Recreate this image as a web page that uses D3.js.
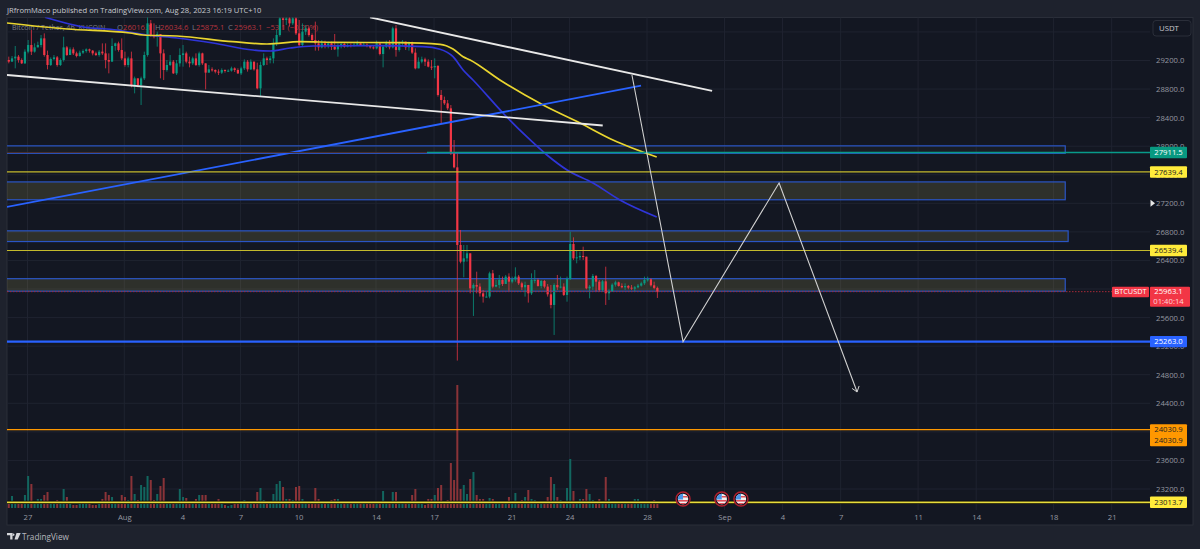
<!DOCTYPE html>
<html>
<head>
<meta charset="utf-8">
<script src="https://cdn.jsdelivr.net/npm/d3@7"></script>
<style>
html,body{margin:0;padding:0;background:#1e222d;}
svg{display:block;}
text{font-family:"Open Sans","Roboto",sans-serif;}
</style>
</head>
<body>
<svg id="chart" width="1200" height="549"></svg>
<script>
// BTC/USDT 4h candles, starting 26 Jul 2023; time is measured in days after 27 Jul.
const firstCandleDay = -1.133;
const candleStep = 1 / 6;
const firstOpen = 29180;
const closes = [29207,29184,29230,29254,29207,29160,29324,29417,29324,29384,29417,29510,29277,29137,29221,29244,29137,29207,29384,29277,29356,29300,29263,29310,29333,29356,29338,29300,29277,29324,29300,29207,29184,29403,29440,29347,29230,29137,29230,28857,28950,28857,28950,29277,29720,29557,29534,29571,29300,29067,29137,29184,29020,29160,29277,29300,29184,29160,29230,29137,29300,29160,29030,29076,29067,29044,29030,29067,29053,29058,29090,29067,29020,29090,29184,29076,29184,29076,28810,29137,29230,29207,29230,29440,29557,29790,29767,29790,29720,29790,29580,29417,29604,29650,29557,29487,29440,29384,29440,29417,29440,29394,29356,29417,29431,29394,29417,29403,29422,29440,29412,29422,29403,29384,29370,29440,29291,29394,29440,29384,29650,29347,29440,29464,29384,29440,29310,29090,29184,29216,29184,29114,29104,29123,28717,28647,28600,28530,27900,27704,26617,26383,26430,26500,26010,26057,26034,25940,25894,25894,26220,26034,26057,26127,26071,26174,26103,26136,26174,26080,26024,26057,25940,26127,26127,26043,26113,26034,25926,25777,26057,26024,26034,25917,26141,26631,26430,26444,26463,26453,26010,26034,26183,26103,25987,26108,25940,25968,26061,26094,26043,26024,26043,26019,26005,26024,26048,26080,26127,26136,26052,26016,25963.1];
const highs = [29230,29254,29263,29403,29277,29230,29356,29487,29627,29440,29464,29557,29580,29338,29244,29277,29263,29230,29534,29403,29384,29384,29324,29338,29356,29370,29366,29347,29324,29347,29440,29440,29300,29510,29450,29464,29510,29324,29254,29324,28974,28950,28974,29324,29814,29767,29720,29604,29557,29356,29207,29277,29207,29207,29370,29417,29324,29254,29254,29300,29324,29310,29137,29137,29104,29076,29076,29090,29076,29076,29114,29104,29090,29114,29216,29207,29216,29184,29170,29184,29300,29254,29263,29510,29627,29837,29837,29837,29814,29837,29837,29767,29720,29697,29674,29580,29744,29487,29487,29478,29464,29464,29571,29440,29450,29450,29440,29440,29450,29478,29450,29450,29440,29417,29403,29478,29450,29417,29478,29487,29674,29697,29464,29487,29464,29464,29464,29370,29244,29254,29240,29216,29207,29230,29137,28787,28694,28647,28577,28087,27900,26827,26617,26617,26500,26080,26243,26080,25987,25964,26243,26267,26127,26197,26174,26197,26220,26174,26304,26197,26103,26103,26057,26220,26267,26150,26127,26127,26071,26057,26080,26197,26174,26080,26174,26803,26724,26547,26524,26593,26444,26057,26211,26197,26127,26127,26313,25996,26080,26117,26103,26080,26080,26057,26057,26043,26071,26103,26174,26174,26150,26103,26034.6];
const lows = [29160,29160,29184,29090,29170,29151,29151,29300,29277,29310,29384,29384,29254,29076,29123,29207,29114,29123,29184,29263,29277,29277,29244,29254,29291,29310,29310,29272,29263,29254,29277,29090,29020,29254,29338,29324,29207,29114,29104,28824,28740,28824,28577,28927,29254,29534,29510,29394,28950,28927,29044,29123,29011,28997,29114,29114,29160,29104,29137,29123,29114,29137,28796,29058,29044,29020,28997,29011,29030,29039,29044,29039,29011,28997,29067,29044,29067,29058,28796,28703,29123,29137,29160,29160,29403,29534,29627,29697,29674,29697,29557,29394,29394,29557,29534,29464,29338,29338,29370,29370,29370,29347,29347,29254,29370,29380,29384,29384,29394,29412,29403,29403,29384,29366,29356,29356,29272,29104,29375,29356,29370,29254,29324,29403,29347,29338,29291,29076,29137,29160,29123,29104,29067,28950,28694,28320,28577,28507,27877,27690,24998,26360,26164,26383,25940,25623,25940,25894,25810,25884,25870,26010,26024,26010,26043,26080,25977,26080,26103,26057,25987,25894,25810,25917,26080,26034,26010,26010,25894,25730,25357,25987,26010,25903,25823,26127,26407,26360,26407,26407,25996,25870,25987,25964,25964,25964,25777,25847,25964,26034,26034,26010,25987,25996,25987,25964,26010,26034,26057,26103,26034,25996,25875.1];
const volumes = [9,7,12,6,5,5,13,32,24,5,9,9,13,16,5,6,8,4,19,11,5,3,3,4,6,5,4,3,3,6,9,16,13,11,5,5,13,11,8,32,14,8,23,21,32,28,8,14,22,30,6,6,6,6,19,11,10,6,6,9,13,13,13,4,4,5,9,4,3,2,3,4,4,4,8,6,4,5,16,20,8,5,4,14,24,27,21,9,9,8,21,22,9,5,5,6,20,9,5,5,7,8,9,9,4,4,4,4,4,4,4,4,4,4,4,6,6,17,5,5,16,16,6,5,5,4,13,19,4,4,3,9,9,13,20,23,5,8,45,28,123,19,23,14,29,36,13,9,9,5,10,9,6,5,4,4,11,4,15,5,8,11,18,9,8,5,4,5,11,31,24,11,8,7,20,49,17,6,9,9,19,14,8,6,9,7,31,9,6,6,5,5,4,4,4,9,9,6,6,5,5,8,4];

// Moving averages as day / price pairs.
const blueMaDays = [0.90,2.87,4.62,6.17,7.72,9.58,11.65,12.53,13.56,14.75,18.05,20.43,21.31,21.98,22.5,23.01,24.56,25.8,26.83,27.87,29.21,30.6,32.5];
const blueMaPrices = [29805,29669,29627,29557,29515,29445,29347,29333,29375,29403,29407,29393,29357,29253,29067,28927,28465,28129,27877,27667,27485,27247,27009];
const yellowMaDays = [-1.06,2.04,5.29,5.97,7.72,10.61,12.37,14.07,15.78,19.24,21.31,21.98,22.5,22.86,24.4,26.63,28.54,30.24,32.5];
const yellowMaPrices = [29725,29641,29585,29557,29543,29463,29431,29463,29455,29449,29427,29361,29253,29207,28927,28577,28325,28087,27849];

// Hand-drawn trend lines: [day, price, day, price].
const lowerChannel = [-1.06,28997,29.71,28290];
const upperChannel = [17.69,29805,35.36,28773];
const blueTrend = [-1.06,27149,31.69,28847];
const projectionDays = [31.22,33.86,38.82,42.85];
const projectionPrices = [28997,25263,27485,24559];

// Supply and demand zones: [end day, top price, bottom price, fill opacity].
const zones = [[53.6,28005,27900,0.03],[53.6,27500,27250,0.13],[53.75,26815,26665,0.13],[53.6,26145,25970,0.13]];

// Horizontal levels with their axis tags.
const tealLevel = 27911.5, yellowLevelA = 27639.4, yellowLevelB = 26539.4;
const blueLevel = 25263.0, orangeLevel = 24030.9, bottomLevel = 23013.7, lastPrice = 25963.1;

const priceTicks = [29200,28800,28400,28000,27600,27200,26800,26400,26000,25600,25200,24800,24400,24000,23600,23200];
const gridPrices = [29600].concat(priceTicks);
const timeTicks = [0,5,8,11,14,18,21,25,28,32,36,39,42,46,49,53,56];
const timeLabels = ["27","Aug","4","7","10","14","17","21","24","28","Sep","4","7","11","14","18","21"];
const eventDays = [33.86,35.86,36.85];

const x = d3.scaleLinear().domain([0,56]).range([27.5,1111.7]);
const y = d3.scaleLinear().domain([29200,23200]).range([60.5,489]);
const volY = d3.scaleLinear().domain([0,123]).range([508,385]);
const paneL = 7, paneR = 1193, paneT = 17.5, paneB = 525, plotR = 1150;
const labelSize = 7.7;

const svg = d3.select("#chart");
svg.append("rect").attr("width",1200).attr("height",549).attr("fill","#1e222d");
svg.append("rect").attr("x",paneL).attr("y",paneT).attr("width",paneR-paneL).attr("height",paneB-paneT)
  .attr("fill","#131722").attr("stroke","#2a2e39");
const defs = svg.append("defs");
defs.append("clipPath").attr("id","pane").append("rect")
  .attr("x",paneL).attr("y",paneT).attr("width",plotR-paneL).attr("height",paneB-paneT);

const plot = svg.append("g").attr("clip-path","url(#pane)");

// Grid
plot.selectAll("line.h").data(gridPrices).join("line").attr("class","h")
  .attr("x1",paneL).attr("x2",plotR).attr("y1",d=>y(d)).attr("y2",d=>y(d))
  .attr("stroke","#1f2330");
plot.selectAll("line.v").data(timeTicks).join("line").attr("class","v")
  .attr("x1",d=>x(d)).attr("x2",d=>x(d)).attr("y1",paneT).attr("y2",paneB-15)
  .attr("stroke","#1f2330");

// Assemble candles from the price arrays
const candles = closes.map((c,i)=>{
  const o = i===0 ? firstOpen : closes[i-1];
  return {t:firstCandleDay+i*candleStep,o,c,h:Math.max(highs[i],o,c),l:Math.min(lows[i],o,c),v:volumes[i],up:c>=o};
});
const UP="#089981", DOWN="#f23645";

// Volume histogram
plot.selectAll("rect.vol").data(candles).join("rect").attr("class","vol")
  .attr("x",d=>x(d.t)-1).attr("width",2)
  .attr("y",d=>volY(d.v)).attr("height",d=>volY(0)-volY(d.v))
  .attr("fill",d=>d.up?"#12665f":"#8a3338");

// Legend sits beneath the candles
const legend = svg.append("g").attr("font-size",labelSize);
legend.append("text").attr("x",12).attr("y",30).attr("fill","#787b86").attr("font-size",7.1).text("Bitcoin / Tether, 4h, KUCOIN");
[["O",117,"26016.1",123],["H",155,"26034.6",160],["L",192,"25875.1",196],["C",228,"25963.1",234]].forEach(a=>{
  legend.append("text").attr("x",a[1]).attr("y",30).attr("fill","#787b86").text(a[0]);
  legend.append("text").attr("x",a[3]).attr("y",30).attr("fill","#b5343f").text(a[2]);
});
legend.append("text").attr("x",266).attr("y",30).attr("fill","#b5343f").text("−53.1 (−0.20%)");

// Zones
const zoneG = svg.append("g").attr("clip-path","url(#pane)");
zoneG.selectAll("rect").data(zones).join("rect")
  .attr("x",paneL-2).attr("width",d=>x(d[0])-paneL+2)
  .attr("y",d=>y(d[1])).attr("height",d=>y(d[2])-y(d[1]))
  .attr("fill","#e8dc70").attr("fill-opacity",d=>d[3])
  .attr("stroke","#2a55c4").attr("stroke-width",1.2);

// Candles
const candleG = svg.append("g").attr("clip-path","url(#pane)");
candleG.selectAll("line").data(candles).join("line")
  .attr("x1",d=>x(d.t)).attr("x2",d=>x(d.t)).attr("y1",d=>y(d.h)).attr("y2",d=>y(d.l))
  .attr("stroke",d=>d.up?UP:DOWN).attr("stroke-opacity",0.75);
candleG.selectAll("rect").data(candles).join("rect")
  .attr("x",d=>x(d.t)-1.1).attr("width",2.2)
  .attr("y",d=>y(Math.max(d.o,d.c))).attr("height",d=>Math.max(1,y(Math.min(d.o,d.c))-y(Math.max(d.o,d.c))))
  .attr("fill",d=>d.up?UP:DOWN);

// Overlay lines
const over = svg.append("g").attr("clip-path","url(#pane)").attr("fill","none");
const maLine = d3.line().x(d=>x(d[0])).y(d=>y(d[1])).curve(d3.curveMonotoneX);
over.append("path").attr("d",maLine(d3.zip(blueMaDays,blueMaPrices))).attr("stroke","#2f35d8").attr("stroke-width",1.7);
over.append("path").attr("d",maLine(d3.zip(yellowMaDays,yellowMaPrices))).attr("stroke","#e9d52f").attr("stroke-width",1.7);

const seg = (s,color,w)=>over.append("line")
  .attr("x1",x(s[0])).attr("y1",y(s[1])).attr("x2",x(s[2])).attr("y2",y(s[3]))
  .attr("stroke",color).attr("stroke-width",w);
seg(blueTrend,"#2962ff",1.8);
seg(lowerChannel,"#e8e8e8",1.8);
seg(upperChannel,"#e8e8e8",1.8);

const level = (p,x0,color,w,extra)=>{
  const l = over.append("line").attr("x1",x0).attr("x2",plotR).attr("y1",y(p)).attr("y2",y(p))
    .attr("stroke",color).attr("stroke-width",w);
  if(extra) l.attr("stroke-dasharray",extra);
  return l;
};
over.append("line").attr("x1",paneL).attr("x2",x(firstCandleDay+132*candleStep)+1).attr("y1",y(tealLevel)).attr("y2",y(tealLevel))
  .attr("stroke","#4a2f2e").attr("stroke-width",1);
level(tealLevel,427,"#089b8a",1.6);
level(yellowLevelA,paneL,"#c4ba2c",1.2);
level(yellowLevelB,paneL,"#c4ba2c",1.2);
level(lastPrice,paneL,"#a52a38",1,"1.5 1.5").attr("x2",1112);
level(blueLevel,paneL,"#2962ff",2.2);
level(orangeLevel,paneL,"#ff9800",1.3);
level(bottomLevel,paneL,"#000000",3.2);
level(bottomLevel,paneL,"#e8dc3c",1.8);

// Projected path with an open arrow head
const proj = d3.zip(projectionDays,projectionPrices);
over.append("path").attr("d",d3.line().x(d=>x(d[0])).y(d=>y(d[1]))(proj)).attr("stroke","#d0d0d0").attr("stroke-width",1.1);
const tip = proj[proj.length-1];
const tx = x(tip[0]), ty = y(tip[1]);
over.append("path").attr("d",`M${tx-5},${ty-3.5}L${tx},${ty}L${tx+2},${ty-6}`).attr("stroke","#d0d0d0").attr("stroke-width",1);

// Economic event markers
const flagClip = defs.append("clipPath").attr("id","flagClip");
flagClip.append("circle").attr("r",5.2);
const ev = svg.selectAll("g.ev").data(eventDays).join("g").attr("class","ev")
  .attr("transform",d=>`translate(${x(d)},499)`);
ev.append("circle").attr("r",7).attr("fill","#131722").attr("stroke","#b3202f").attr("stroke-width",1.4);
const fl = ev.append("g").attr("clip-path","url(#flagClip)");
fl.append("rect").attr("x",-6).attr("y",-6).attr("width",12).attr("height",12).attr("fill","#f2f2f2");
fl.append("rect").attr("x",-6).attr("y",-6).attr("width",6).attr("height",6.5).attr("fill","#4b94e8");
fl.append("rect").attr("x",0).attr("y",-3).attr("width",6).attr("height",1.5).attr("fill","#e0505a");
fl.append("rect").attr("x",-6).attr("y",1).attr("width",12).attr("height",1.6).attr("fill","#e0505a");
fl.append("rect").attr("x",-6).attr("y",4).attr("width",12).attr("height",2).attr("fill","#e0505a");

// Price axis: 400-step labels; those on a level are hidden by its tag
const yAxis = svg.append("g").attr("transform",`translate(${plotR},0)`)
  .call(d3.axisRight(y).tickValues(priceTicks).tickSize(0).tickPadding(6).tickFormat(d3.format(".1f")));
yAxis.select(".domain").remove();
yAxis.selectAll("text").attr("fill","#9598a1").attr("font-size",labelSize).style("font-family",'"Open Sans"');

// Time axis
const xAxis = svg.append("g").attr("transform","translate(0,514)")
  .call(d3.axisBottom(x).tickValues(timeTicks).tickSize(0).tickPadding(1).tickFormat((d,i)=>timeLabels[i]));
xAxis.select(".domain").remove();
xAxis.selectAll("text").attr("fill","#9598a1").attr("font-size",labelSize).style("font-family",'"Open Sans"');

// Axis tags
const tag = (p,fill,ink,label)=>{
  const cy = y(p);
  svg.append("rect").attr("x",1150).attr("y",cy-5.7).attr("width",37).attr("height",11.4).attr("fill",fill).attr("rx",1);
  svg.append("text").attr("x",1168.5).attr("y",cy+2.8).attr("text-anchor","middle").attr("fill",ink).attr("font-size",labelSize).text(label);
};
tag(tealLevel,"#089981","#ffffff",tealLevel.toFixed(1));
tag(yellowLevelA,"#ffeb3b","#222222",yellowLevelA.toFixed(1));
tag(yellowLevelB,"#ffeb3b","#222222",yellowLevelB.toFixed(1));
tag(blueLevel,"#2962ff","#ffffff",blueLevel.toFixed(1));
tag(bottomLevel,"#ffeb3b","#222222",bottomLevel.toFixed(1));

// Orange tag carries two rows
const oy = y(orangeLevel);
svg.append("rect").attr("x",1150).attr("y",oy-5.5).attr("width",37).attr("height",22).attr("fill","#ff9800").attr("rx",1);
[oy+2.8,oy+13.6].forEach(t=>svg.append("text").attr("x",1168.5).attr("y",t).attr("text-anchor","middle").attr("fill","#222222").attr("font-size",labelSize).text(orangeLevel.toFixed(1)));

// Last price tag with symbol and countdown
const ly = y(lastPrice);
svg.append("rect").attr("x",1112).attr("y",ly-5).attr("width",37).attr("height",10.5).attr("fill","#f23645").attr("rx",1);
svg.append("text").attr("x",1130.5).attr("y",ly+2.8).attr("text-anchor","middle").attr("fill","#ffffff").attr("font-size",7.3).text("BTCUSDT");
svg.append("rect").attr("x",1150).attr("y",ly-5).attr("width",40).attr("height",20).attr("fill","#f23645").attr("rx",1);
svg.append("text").attr("x",1168.5).attr("y",ly+2.8).attr("text-anchor","middle").attr("fill","#ffffff").attr("font-size",labelSize).text(lastPrice.toFixed(1));
svg.append("text").attr("x",1168.5).attr("y",ly+12).attr("text-anchor","middle").attr("fill","#ffd7da").attr("font-size",labelSize).text("01:40:14");

// Small pointer beside the 27200 tick
svg.append("path").attr("d",`M1150.5,${y(27200)-3.5}L1155,${y(27200)}L1150.5,${y(27200)+3.5}Z`).attr("fill","#e8e8e8");

// Currency button
svg.append("rect").attr("x",1153).attr("y",20.5).attr("width",38).attr("height",15.5).attr("rx",3).attr("fill","#131722").attr("stroke","#2a2e39");
svg.append("text").attr("x",1159).attr("y",31).attr("fill","#c5c7cd").attr("font-size",7.8).text("USDT");

// Header and footer
svg.append("text").attr("x",7).attr("y",12.5).attr("fill","#c8cad0").attr("font-size",7.6).text("JRfromMaco published on TradingView.com, Aug 28, 2023 16:19 UTC+10");
svg.append("path").attr("d","M7,533h5.5v6.5h-2.3v-4.2H7ZM13.3,533.4a1.2,1.2 0 1 0 .01,0ZM16.5,533h4.2l-3,6.5h-3.2Z").attr("fill","#d5d6da");
svg.append("text").attr("x",22).attr("y",540).attr("fill","#b6b8be").attr("font-size",8.2).text("TradingView");
</script>
</body>
</html>
